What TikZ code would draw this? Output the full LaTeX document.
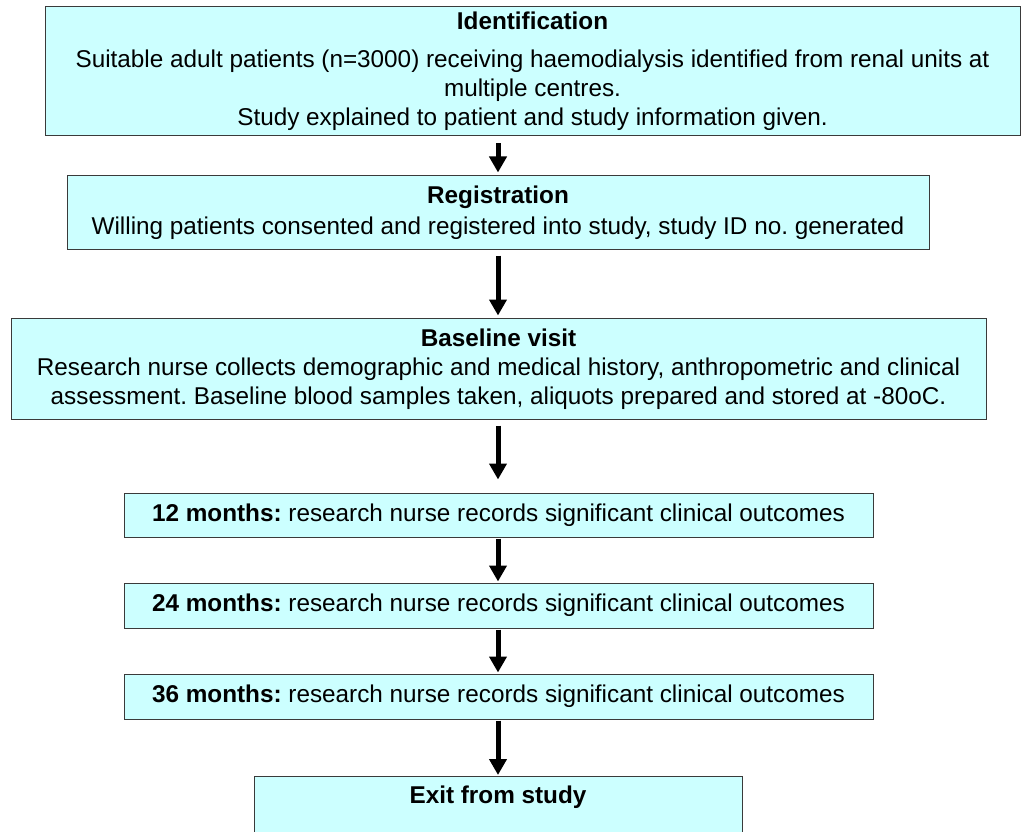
\documentclass[tikz,border=0pt]{standalone}
\usepackage{fontspec}
\setmainfont{Liberation Sans}
\usetikzlibrary{arrows.meta}
\definecolor{boxfill}{HTML}{CCFFFF}
\definecolor{boxline}{HTML}{3A3A3A}
\frenchspacing
\tikzset{
  flowbox/.style={draw=boxline, line width=1pt, fill=boxfill, inner sep=0pt,
    align=center, font=\fontsize{24.3}{29}\selectfont},
  flowarrow/.style={line width=5pt, -{Triangle[width=17pt,length=16pt]}}
}
\begin{document}
\begin{tikzpicture}[x=1pt,y=-1pt]
\clip (0,0) rectangle (1026,832);
\fill[white] (0,0) rectangle (1026,832);
\node[flowbox, minimum width=975pt, minimum height=129pt] (b1) at (532.5,71.5)
  {\textbf{Identification}\\[9pt]
   Suitable adult patients (n=3000) receiving haemodialysis identified from renal units at\\
   multiple centres.\\
   Study explained to patient and study information given.};
\node[flowbox, minimum width=862pt, minimum height=73pt] (b2) at (498,212.5)
  {\textbf{Registration}\\[2pt]
   Willing patients consented and registered into study, study ID no. generated};
\node[flowbox, minimum width=975pt, minimum height=101pt] (b3) at (498.5,368.5)
  {\textbf{Baseline visit}\\
   Research nurse collects demographic and medical history, anthropometric and clinical\\
   assessment. Baseline blood samples taken, aliquots prepared and stored at -80oC.\\[-25pt]\mbox{}};
\node[flowbox, minimum width=749pt, minimum height=44pt] (b4) at (498.5,515)
  {\textbf{12 months:} research nurse records significant clinical outcomes};
\node[flowbox, minimum width=749pt, minimum height=45pt] (b5) at (498.5,605.5)
  {\textbf{24 months:} research nurse records significant clinical outcomes};
\node[flowbox, minimum width=749pt, minimum height=45pt] (b6) at (498.5,696.5)
  {\textbf{36 months:} research nurse records significant clinical outcomes};
\node[flowbox, minimum width=488pt, minimum height=90pt, anchor=north] (b7) at (498,776) {};
\node[font=\fontsize{24.3}{29}\selectfont\bfseries, inner sep=0pt] (t7) at (498,797) {Exit from study};
\draw[flowarrow, shorten <=7pt, shorten >=3pt] (b1.south -| b2.north) -- (b2.north);
\draw[flowarrow, shorten <=6pt, shorten >=2pt] (b2.south) -- (b3.north -| b2.south);
\draw[flowarrow, shorten <=6pt, shorten >=13pt] (b3.south -| b2.south) -- (b4.north -| b2.south);
\draw[flowarrow, shorten <=1pt, shorten >=1pt] (b4.south -| b2.south) -- (b5.north -| b2.south);
\draw[flowarrow, shorten <=1pt, shorten >=1pt] (b5.south -| b2.south) -- (b6.north -| b2.south);
\draw[flowarrow, shorten <=1pt, shorten >=1pt] (b6.south -| b2.south) -- (b7.north -| b2.south);
\end{tikzpicture}
\end{document}
